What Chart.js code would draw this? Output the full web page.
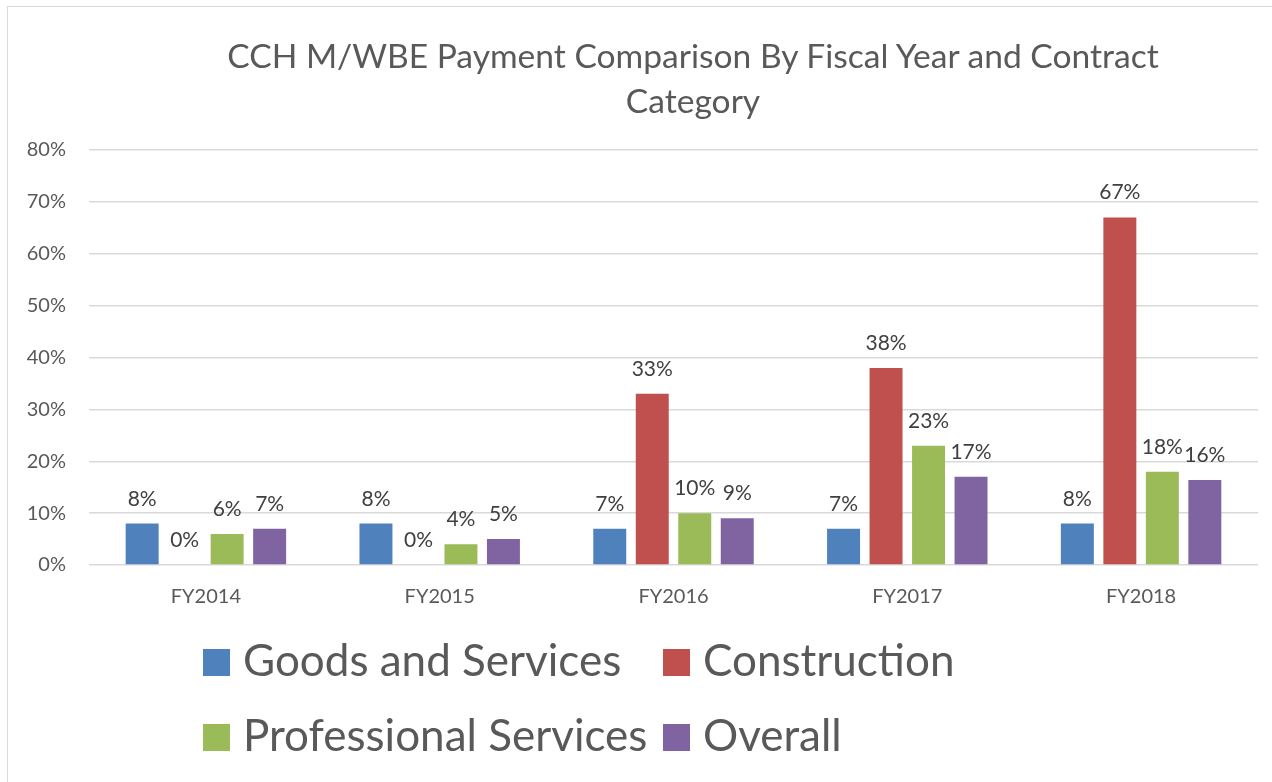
<!DOCTYPE html>
<html>
<head>
<meta charset="utf-8">
<script src="https://cdn.jsdelivr.net/npm/chart.js@4.4.1/dist/chart.umd.min.js"></script>
<style>
  html, body { margin: 0; padding: 0; background: #fff; }
  #wrap { position: relative; width: 1272px; height: 782px; overflow: hidden; }
  #frame { position: absolute; left: 7px; top: 6px; right: -10px; bottom: -10px;
           border-left: 1.5px solid #d9d9d9; border-top: 1.5px solid #d9d9d9; pointer-events: none; }
  #title { position: absolute; left: 193px; width: 1000px; top: 33px; text-align: center;
           font-family: Lato, sans-serif; font-size: 33.6px; line-height: 45px; color: #595959; }
  #legend { position: absolute; left: 203px; top: 633px; display: grid;
            grid-template-columns: 460px auto; grid-auto-rows: 75px;
            font-family: Lato, sans-serif; font-size: 44px; color: #595959; }
  .item { display: flex; align-items: flex-start; white-space: nowrap; line-height: 53px; }
  .box { flex: 0 0 27px; width: 27px; height: 27px; margin-top: 16px; margin-right: 13px; }
</style>
</head>
<body>
<div id="wrap">
  <canvas id="myChart" width="1272" height="782"></canvas>
  <div id="frame"></div>
  <div id="title"></div>
  <div id="legend"></div>
</div>
<script>
var chartTitle = ["CCH M/WBE Payment Comparison By Fiscal Year and Contract", "Category"];
var years = ["FY2014", "FY2015", "FY2016", "FY2017", "FY2018"];
var seriesNames = ["Goods and Services", "Construction", "Professional Services", "Overall"];
var goods = [8, 8, 7, 7, 8];
var construction = [0, 0, 33, 38, 67];
var professional = [6, 4, 10, 23, 18];
var overall = [7, 5, 9, 17, 16.4];
var colors = ["#4F81BD", "#C0504D", "#9BBB59", "#8064A2"];
var yTicks = [0, 10, 20, 30, 40, 50, 60, 70, 80];

var allValues = [goods, construction, professional, overall];

// labels on top of each bar
var barLabels = {
  id: "barLabels",
  afterDatasetsDraw: function(chart) {
    var ctx = chart.ctx;
    ctx.save();
    ctx.font = "21px Lato";
    ctx.fillStyle = "#404040";
    ctx.textAlign = "center";
    ctx.textBaseline = "alphabetic";
    chart.data.datasets.forEach(function(ds, i) {
      var meta = chart.getDatasetMeta(i);
      meta.data.forEach(function(bar, j) {
        ctx.fillText(Math.round(ds.data[j]) + "%", bar.x, bar.y - 18);
      });
    });
    ctx.restore();
  }
};

var datasets = [];
for (var i = 0; i < seriesNames.length; i++) {
  datasets.push({
    label: seriesNames[i],
    data: allValues[i],
    backgroundColor: colors[i],
    categoryPercentage: 0.727,
    barPercentage: 0.776
  });
}

var ctx = document.getElementById("myChart").getContext("2d");
var chart = new Chart(ctx, {
  type: "bar",
  data: { labels: years, datasets: datasets },
  options: {
    responsive: false,
    animation: false,
    layout: { padding: { left: 8, right: 14, top: 150, bottom: 161 } },
    plugins: {
      legend: { display: false },
      tooltip: { enabled: false },
      title: { display: false }
    },
    scales: {
      x: {
        grid: { display: false },
        border: { display: false },
        ticks: { color: "#595959", font: { family: "Lato", size: 20 }, padding: 12 }
      },
      y: {
        min: 0,
        max: 80,
        afterBuildTicks: function(scale) {
          scale.ticks = yTicks.map(function(v) { return { value: v }; });
        },
        afterFit: function(scale) { scale.width = 81; },
        grid: { color: "#d9d9d9", lineWidth: 1.5, drawTicks: false },
        border: { display: false },
        ticks: {
          color: "#595959",
          font: { family: "Lato", size: 20 },
          padding: 23,
          callback: function(v) { return v + "%"; }
        }
      }
    }
  },
  plugins: [barLabels]
});

// title, offset to the right like the original
var titleEl = document.getElementById("title");
chartTitle.forEach(function(line) {
  var d = document.createElement("div");
  d.textContent = line;
  titleEl.appendChild(d);
});

// legend laid out as a 2x2 grid like the original
var legendEl = document.getElementById("legend");
seriesNames.forEach(function(name, i) {
  var item = document.createElement("div");
  item.className = "item";
  var box = document.createElement("span");
  box.className = "box";
  box.style.background = colors[i];
  item.appendChild(box);
  item.appendChild(document.createTextNode(name));
  legendEl.appendChild(item);
});
</script>
</body>
</html>
